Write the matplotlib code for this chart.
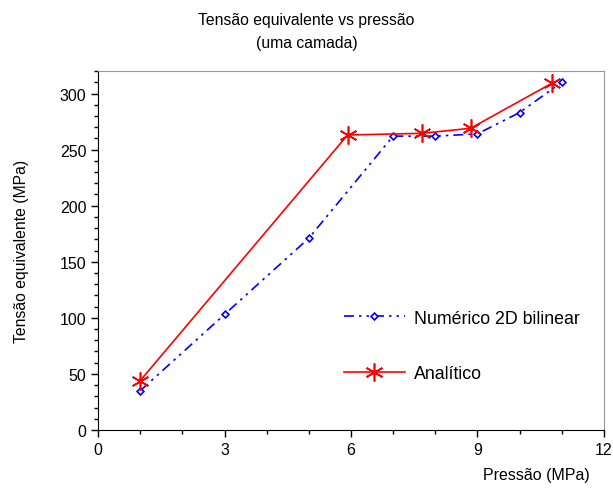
import matplotlib.pyplot as plt

plt.rcParams['font.family'] = ['Liberation Sans', 'DejaVu Sans']

num_x = [1, 3, 5, 7, 8, 9, 10, 11]
num_y = [35, 103, 171, 262, 262, 264, 283, 310]
ana_x = [1, 5.92, 7.68, 8.84, 10.76]
ana_y = [44, 263, 264.5, 269, 309]

fig = plt.figure(figsize=(6.13, 4.89), dpi=100)
ax = fig.add_axes([0.160, 0.1186, 0.825, 0.734])

ax.plot(num_x, num_y, color='blue', linewidth=1.2, dashes=(6, 3, 1.5, 3, 1.5, 3),
        marker='D', markersize=3.5, markerfacecolor='white', markeredgecolor='blue',
        markeredgewidth=1.2, label='Numérico 2D bilinear')
ax.plot(ana_x, ana_y, color='red', linewidth=1.2, marker=(6, 2, 0), markersize=13,
        markeredgewidth=1.2, label='Analítico')

ax.set_xlim(0, 12)
ax.set_ylim(0, 320)
ax.set_xticks([0, 3, 6, 9, 12])
ax.set_xticks(range(0, 13), minor=True)
ax.set_yticks(range(0, 301, 50))
ax.set_yticks(range(0, 321, 10), minor=True)
ax.tick_params(labelsize=11.5, direction='out', length=5, width=1)
ax.tick_params(which='minor', length=3, width=1)
for s in ['top', 'right']:
    ax.spines[s].set_color('#999999')
for s in ['left', 'bottom']:
    ax.spines[s].set_color('black')

fig.text(0.5, 0.958, 'Tensão equivalente vs pressão', ha='center', va='center', fontsize=11.3)
fig.text(0.5, 0.911, '(uma camada)', ha='center', va='center', fontsize=11.3)
fig.text(0.035, 0.485, 'Tensão equivalente (MPa)', rotation=90, ha='center', va='center', fontsize=11.3)
fig.text(0.962, 0.012, 'Pressão (MPa)', ha='right', va='bottom', fontsize=11.5)

ax.legend(loc='upper left', bbox_to_anchor=(0.455, 0.38), frameon=False, fontsize=12.8,
          handlelength=3.4, labelspacing=2.15, handletextpad=0.5)

fig.savefig('out.png', dpi=100)
